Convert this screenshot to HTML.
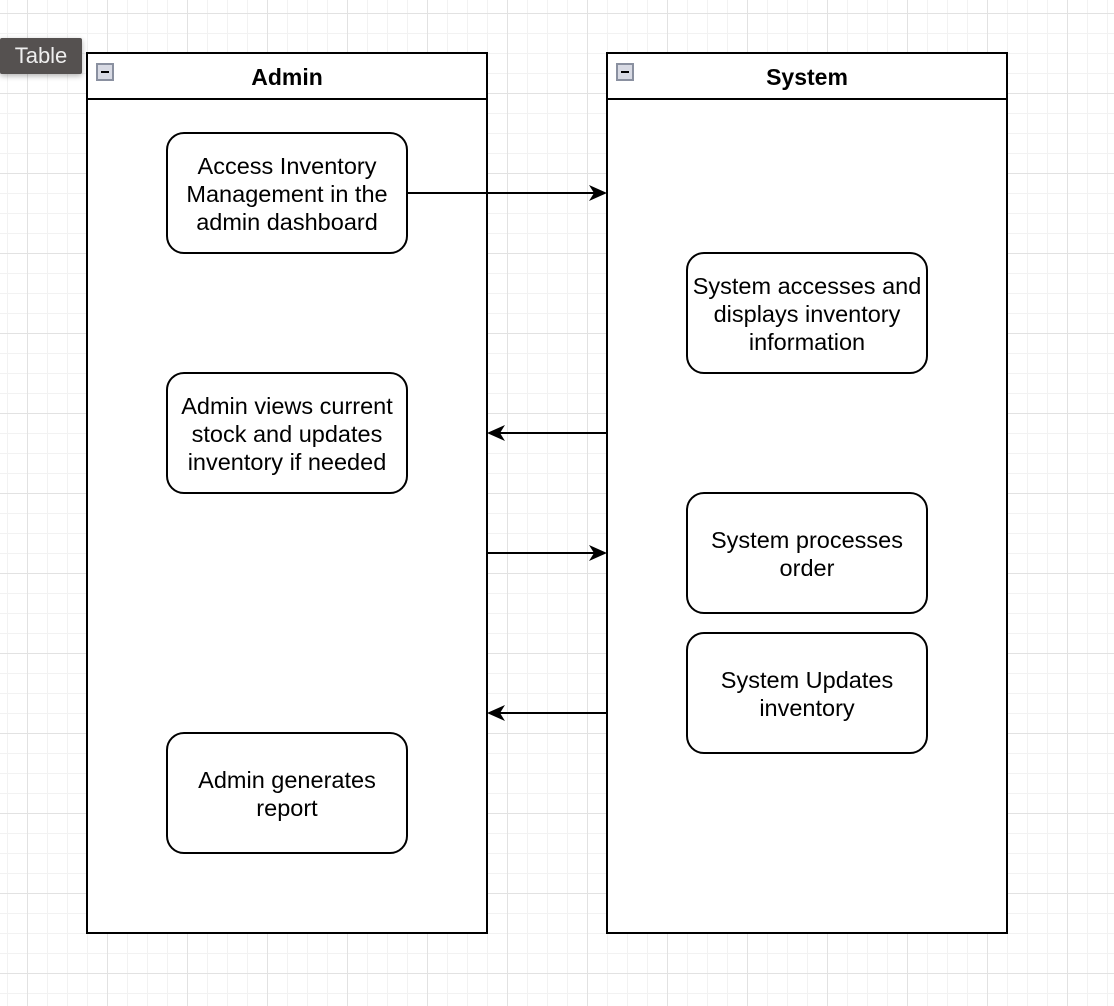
<!DOCTYPE html>
<html><head><style>
body{margin:0;width:1114px;height:1006px;overflow:hidden;background:#fff;font-family:"Liberation Sans",Arial,sans-serif;}
.grid{position:absolute;left:0;top:0;width:1114px;height:1006px;
background-image:
linear-gradient(#e2e2e2 1px,transparent 1px),linear-gradient(90deg,#e2e2e2 1px,transparent 1px),
linear-gradient(#f2f2f2 1px,transparent 1px),linear-gradient(90deg,#f2f2f2 1px,transparent 1px);
background-size:80px 80px,80px 80px,20px 20px,20px 20px;
background-position:0 13px,27px 0,0 13px,7px 0;}
.pool{position:absolute;border:2px solid #000;background:#fff;box-sizing:border-box;}
.hdr{position:absolute;left:0;right:0;top:0;height:46px;border-bottom:2px solid #000;box-sizing:border-box;text-align:center;font-weight:bold;font-size:23px;line-height:46px;}
.min{position:absolute;left:8px;top:9px;width:18px;height:18px;background:#d8dae4;border:2px solid #8a90a0;box-sizing:border-box;}
.min:after{content:"";position:absolute;left:3px;top:6px;width:8px;height:2px;background:#000;}
.box{position:absolute;width:242px;height:122px;border:2px solid #000;border-radius:18px;box-sizing:border-box;background:#fff;display:flex;align-items:center;justify-content:center;text-align:center;font-size:23.5px;line-height:28px;padding-top:1px;white-space:nowrap;}
.tip{position:absolute;left:0;top:38px;width:82px;height:36px;background:#555150;color:#eee;font-size:22px;line-height:36px;text-align:center;border-radius:2px;box-shadow:0 2px 6px rgba(0,0,0,.3);}
</style></head><body>
<div class="grid"></div>
<div class="pool" style="left:86px;top:52px;width:402px;height:882px"><div class="hdr">Admin</div><div class="min"></div></div>
<div class="pool" style="left:606px;top:52px;width:402px;height:882px"><div class="hdr">System</div><div class="min"></div></div>
<div class="box" style="left:166px;top:132px">Access Inventory<br>Management in the<br>admin dashboard</div>
<div class="box" style="left:166px;top:372px">Admin views current<br>stock and updates<br>inventory if needed</div>
<div class="box" style="left:166px;top:732px">Admin generates<br>report</div>
<div class="box" style="left:686px;top:252px">System accesses and<br>displays inventory<br>information</div>
<div class="box" style="left:686px;top:492px">System processes<br>order</div>
<div class="box" style="left:686px;top:632px">System Updates<br>inventory</div>
<svg style="position:absolute;left:0;top:0" width="1114" height="1006">
<g stroke="#000" stroke-width="2">
<line x1="408" y1="193" x2="596" y2="193"/>
<line x1="607" y1="433" x2="498" y2="433"/>
<line x1="487" y1="553" x2="596" y2="553"/>
<line x1="607" y1="713" x2="498" y2="713"/>
</g>
<g fill="#000">
<path d="M607 193 L589 185 L594 193 L589 201Z"/>
<path d="M487 433 L505 425 L500 433 L505 441Z"/>
<path d="M607 553 L589 545 L594 553 L589 561Z"/>
<path d="M487 713 L505 705 L500 713 L505 721Z"/>
</g></svg>
<div class="tip">Table</div>
</body></html>
